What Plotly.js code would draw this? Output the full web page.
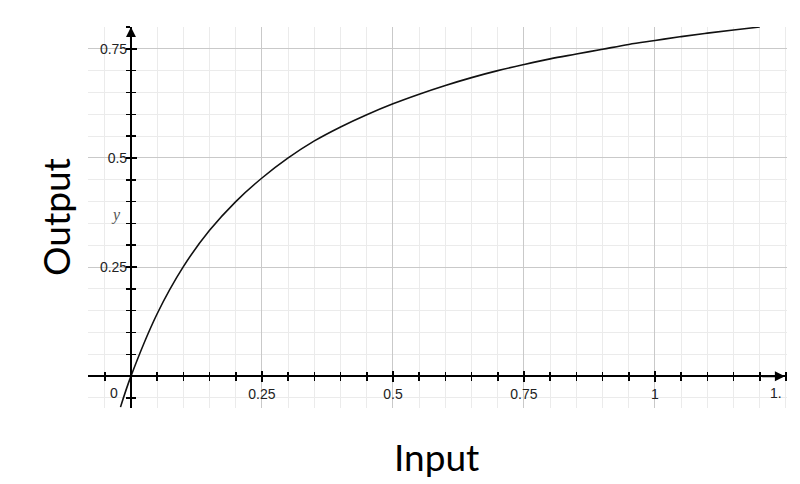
<!DOCTYPE html>
<html>
<head>
<meta charset="utf-8">
<script src="https://cdn.plot.ly/plotly-3.0.1.min.js"></script>
<style>html,body{margin:0;padding:0;background:#fff;}#chart{width:800px;height:484px;}</style>
</head>
<body>
<div id="chart"></div>
<script>
// Curve
const inputX  = [-0.02, 0, 0.05, 0.1, 0.15, 0.2, 0.25, 0.3, 0.35, 0.4, 0.45, 0.5, 0.55, 0.6, 0.65, 0.7, 0.75, 0.8, 0.85, 0.9, 0.95, 1.0, 1.05, 1.1, 1.15, 1.2];
const outputY = [-0.071, 0, 0.143, 0.251, 0.334, 0.4, 0.454, 0.5, 0.539, 0.571, 0.599, 0.624, 0.646, 0.666, 0.684, 0.7, 0.714, 0.727, 0.738, 0.749, 0.76, 0.769, 0.778, 0.786, 0.793, 0.8];

// Tick labels
const xTickVals = [0.25, 0.5, 0.75, 1];
const xTickText = ['0.25', '0.5', '0.75', '1'];
const yTickVals = [0.25, 0.5, 0.75];
const yTickText = ['0.25', '0.5', '0.75'];
const originLabel = '0';
const cutLabel = '1.';
const cutLabelX = 1.25;
const xTitle = 'Input';
const yTitle = 'Output';
const yVarLabel = 'y';

const xRange = [-0.082, 1.252];
const yRange = [-0.073, 0.8];
const xPos = (0 - yRange[0]) / (yRange[1] - yRange[0]);
const yPos = (0 - xRange[0]) / (xRange[1] - xRange[0]);

const tickFont = {family: 'Liberation Sans, Arial, sans-serif', size: 14, color: '#222'};
const TW = 1.5;

const traces = [
  {x: inputX, y: outputY, mode: 'lines', line: {color: '#111', width: 1.6, shape: 'spline', smoothing: 1}, hoverinfo: 'skip'},
  {x: [null], y: [null], xaxis: 'x2', yaxis: 'y2', mode: 'lines', hoverinfo: 'skip'},
  {x: [null], y: [null], xaxis: 'x3', yaxis: 'y3', mode: 'lines', hoverinfo: 'skip'}
];

function tickOnly(over, range, pos, vals, side) {
  return {overlaying: over, range: range, anchor: 'free', position: pos, showgrid: false, zeroline: false, showline: false,
    tickmode: 'array', tickvals: vals, ticks: side, ticklen: 5, tickwidth: TW, tickcolor: '#000', showticklabels: false,
    minor: {dtick: 0.05, tick0: 0, ticks: side === 'inside' ? 'inside' : '', ticklen: 4, tickwidth: TW, tickcolor: '#000', showgrid: false},
    fixedrange: true};
}

const layout = {
  width: 800, height: 484,
  margin: {l: 88, r: 13, t: 27, b: 76},
  paper_bgcolor: '#fff', plot_bgcolor: '#fff',
  showlegend: false,
  xaxis: {range: xRange, anchor: 'free', position: xPos, fixedrange: true,
    showgrid: true, gridcolor: '#c9c9c9', gridwidth: 1, zeroline: false,
    showline: true, linecolor: '#000', linewidth: 2,
    tickmode: 'array', tickvals: xTickVals, ticktext: xTickText,
    ticks: '', ticklabelstandoff: 5, tickfont: tickFont,
    minor: {dtick: 0.05, tick0: 0, showgrid: true, gridcolor: '#ebebeb', gridwidth: 1, ticks: 'outside', ticklen: 4, tickwidth: TW, tickcolor: '#000'}},
  yaxis: {range: yRange, anchor: 'free', position: yPos, fixedrange: true,
    showgrid: true, gridcolor: '#c9c9c9', gridwidth: 1, zeroline: false,
    showline: true, linecolor: '#000', linewidth: 2,
    tickmode: 'array', tickvals: yTickVals, ticktext: yTickText,
    ticks: '', tickfont: tickFont,
    minor: {dtick: 0.05, tick0: 0, showgrid: true, gridcolor: '#ebebeb', gridwidth: 1, ticks: 'outside', ticklen: 4, tickwidth: TW, tickcolor: '#000'}},
  xaxis2: tickOnly('x', xRange, xPos, xTickVals, 'inside'),
  yaxis2: tickOnly('y', yRange, yPos, yTickVals, 'inside'),
  xaxis3: tickOnly('x', xRange, xPos, xTickVals, 'outside'),
  yaxis3: tickOnly('y', yRange, yPos, yTickVals, 'outside'),
  annotations: [
    {x: xRange[1] - 0.004, y: 0, ax: xRange[1] - 0.05, ay: 0, xref: 'x', yref: 'y', axref: 'x', ayref: 'y', text: '', showarrow: true, arrowhead: 2, arrowsize: 1, arrowwidth: 2, arrowcolor: '#000'},
    {x: 0, y: yRange[1], ax: 0, ay: yRange[1] - 0.04, xref: 'x', yref: 'y', axref: 'x', ayref: 'y', text: '', showarrow: true, arrowhead: 2, arrowsize: 1, arrowwidth: 2, arrowcolor: '#000'},
    {x: 0, y: 0, xref: 'x', yref: 'y', text: originLabel, showarrow: false, xanchor: 'right', yanchor: 'top', xshift: -11, yshift: -7, font: tickFont},
    {x: cutLabelX, y: 0, xref: 'x', yref: 'y', text: cutLabel, showarrow: false, xanchor: 'right', yanchor: 'top', xshift: -2, yshift: -7, font: tickFont},
    {x: 0, y: 0.37, xref: 'x', yref: 'y', text: yVarLabel, showarrow: false, xanchor: 'right', yanchor: 'middle', xshift: -8, font: {family: 'Liberation Serif, DejaVu Serif, serif', size: 16, color: '#555', style: 'italic'}},
    {x: 55, y: 217, xref: 'paper', yref: 'paper', text: yTitle, showarrow: false, textangle: -90, font: {family: 'Lato, sans-serif', size: 37, color: '#000'}},
    {x: 436, y: 456, xref: 'paper', yref: 'paper', text: xTitle, showarrow: false, font: {family: 'Lato, sans-serif', size: 37, color: '#000'}}
  ]
};

// convert pixel-placed title annotations to paper coords
layout.annotations.forEach(a => {
  if (a.xref === 'paper') {
    const pw = 800 - layout.margin.l - layout.margin.r;
    const ph = 484 - layout.margin.t - layout.margin.b;
    a.x = (a.x - layout.margin.l) / pw;
    a.y = 1 - (a.y - layout.margin.t) / ph;
    a.xanchor = 'center'; a.yanchor = 'middle';
  }
});

Plotly.newPlot('chart', traces, layout, {displayModeBar: false, staticPlot: true});
</script>
</body>
</html>
